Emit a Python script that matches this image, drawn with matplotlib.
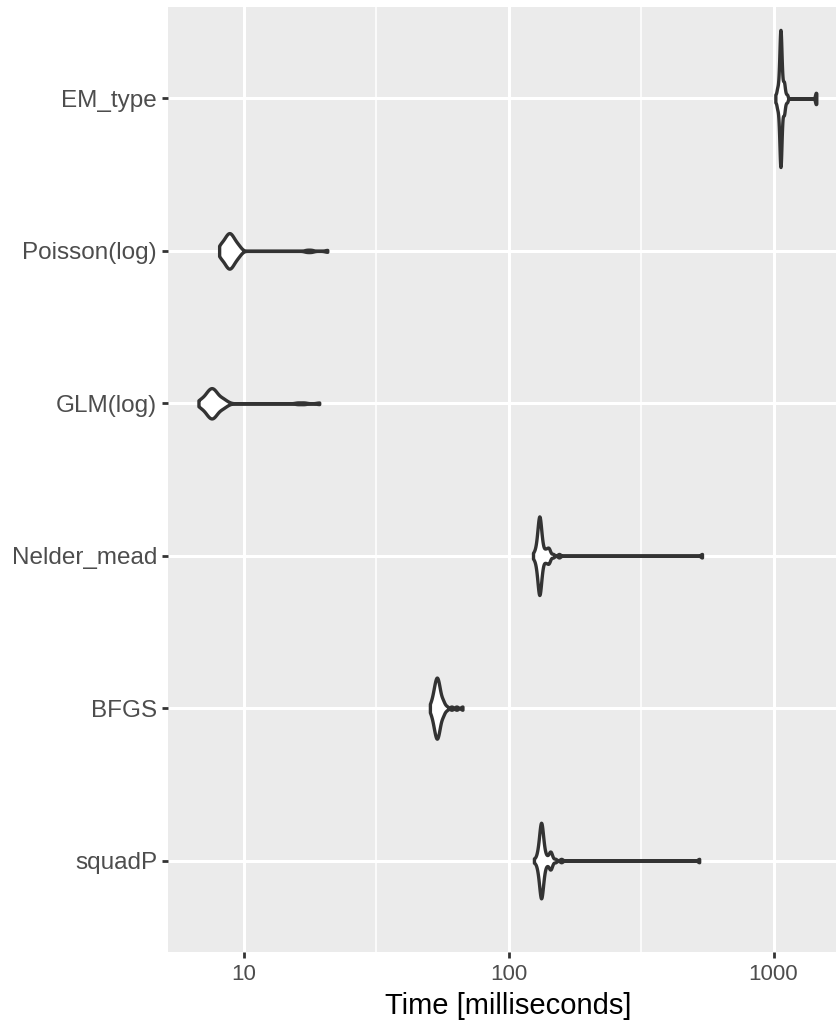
import numpy as np
import matplotlib.pyplot as plt
from matplotlib.ticker import FixedLocator, NullFormatter

# benchmark timings in milliseconds (50 runs per expression)
EXPRS = ["squadP", "BFGS", "Nelder_mead", "GLM(log)", "Poisson(log)", "EM_type"]

squadP = [124.7, 127.3, 128.3, 129.0, 129.6, 130.0, 130.3, 130.6, 130.9, 131.1, 131.4, 131.5, 131.7,
          131.9, 132.0, 132.2, 132.3, 132.4, 132.5, 132.7, 132.8, 132.9, 133.0, 133.1, 133.2, 133.4,
          133.5, 133.7, 133.9, 134.1, 134.3, 134.5, 134.8, 135.1, 135.4, 135.8, 136.4, 137.1, 138.1,
          139.7, 141.0, 142.8, 143.3, 143.7, 144.1, 144.8, 146.0, 150, 158, 524]
BFGS = [50.5, 51.0, 51.3, 51.6, 51.8, 52.0, 52.1, 52.3, 52.4, 52.5, 52.6, 52.7, 52.8, 52.9, 53.0,
        53.1, 53.2, 53.3, 53.3, 53.4, 53.5, 53.6, 53.6, 53.7, 53.8, 53.9, 54.0, 54.0, 54.1, 54.2,
        54.3, 54.4, 54.5, 54.6, 54.7, 54.8, 54.9, 55.1, 55.2, 55.4, 55.6, 56.0, 56.3, 56.5, 56.7,
        57.3, 58.4, 60.9, 63.6, 67.0]
Nelder_mead = [123.7, 125.5, 126.5, 127.2, 127.7, 128.1, 128.5, 128.7, 129.0, 129.2, 129.4, 129.6,
               129.8, 129.9, 130.1, 130.2, 130.3, 130.4, 130.5, 130.6, 130.8, 130.9, 131.0, 131.1,
               131.2, 131.3, 131.5, 131.6, 131.8, 132.0, 132.2, 132.4, 132.7, 133.0, 133.3, 133.7,
               134.2, 134.9, 135.9, 137.5, 137.9, 138.8, 140.3, 140.9, 141.5, 142.2, 143.2,
               147, 155, 537]
GLM_log = [6.76, 6.84, 6.91, 6.95, 7.03, 7.10, 7.14, 7.19, 7.23, 7.26, 7.28, 7.31, 7.34, 7.37, 7.39,
           7.42, 7.44, 7.47, 7.49, 7.51, 7.54, 7.56, 7.58, 7.60, 7.62, 7.64, 7.66, 7.69, 7.71, 7.74,
           7.76, 7.79, 7.82, 7.85, 7.88, 7.91, 7.94, 7.99, 8.03, 8.10, 8.18, 8.25, 8.29, 8.35, 8.44,
           8.54, 8.73, 16.0, 16.9, 19.3]
Poisson_log = [8.09, 8.13, 8.17, 8.22, 8.25, 8.31, 8.37, 8.41, 8.45, 8.49, 8.52, 8.55, 8.57, 8.60,
               8.63, 8.65, 8.68, 8.70, 8.73, 8.75, 8.77, 8.80, 8.82, 8.84, 8.86, 8.89, 8.90, 8.92,
               8.95, 8.97, 9.00, 9.02, 9.05, 9.08, 9.11, 9.14, 9.17, 9.21, 9.24, 9.28, 9.34, 9.40,
               9.45, 9.49, 9.56, 9.66, 9.75, 17.3, 18.0, 20.7]
EM_type = [1016, 1028, 1032, 1036.1, 1041.2, 1044.6, 1047.1, 1049.1, 1050.8, 1052.2, 1053.4,
           1054.6, 1055.6, 1056.5, 1057.3, 1058.1, 1058.8, 1059.4, 1060.1, 1060.7, 1061.2, 1061.8,
           1062.3, 1062.8, 1063.3, 1063.9, 1064.6, 1065.2, 1065.9, 1066.7, 1067.5, 1068.4, 1069.4,
           1070.6, 1071.8, 1073.2, 1074.9, 1076.9, 1079.4, 1082.8, 1087.9, 1090, 1093, 1096,
           1098.9, 1102, 1112, 1125, 1440, 1450]

TIMES = [squadP, BFGS, Nelder_mead, GLM_log, Poisson_log, EM_type]

X_TICKS = [10, 100, 1000]
X_MINOR = [10 ** 0.5, 10 ** 1.5, 10 ** 2.5, 10 ** 3.5]


def nrd0(v):
    # R's default bandwidth rule
    sd = np.std(v, ddof=1)
    q75, q25 = np.percentile(v, [75, 25])
    lo = min(sd, (q75 - q25) / 1.34)
    return 0.9 * lo * len(v) ** -0.2


def density(samples, n=512):
    # gaussian kde on the log10 scale, trimmed to the data range
    v = np.log10(np.asarray(samples, float))
    bw = nrd0(v)
    grid = np.linspace(v.min(), v.max(), n)
    z = (grid[:, None] - v[None, :]) / bw
    d = np.exp(-0.5 * z ** 2).sum(axis=1) / (len(v) * bw * np.sqrt(2 * np.pi))
    return 10 ** grid, d


dens = [density(t) for t in TIMES]
dmax = max(d.max() for _, d in dens)

fig = plt.figure(figsize=(8.37, 10.26), dpi=100)
# panel runs a little past the right edge of the canvas
ax = fig.add_axes([168 / 837, 74 / 1026, 680 / 837, 945 / 1026])
ax.set_facecolor("#EBEBEB")
for s in ax.spines.values():
    s.set_visible(False)

for i, (x, d) in enumerate(dens):
    w = 0.45 * d / dmax  # scale = "area"
    ax.fill_between(x, i + 1 - w, i + 1 + w, facecolor="white", edgecolor="#333333",
                    linewidth=2.4, joinstyle="round", zorder=3)

ax.set_xscale("log")
ax.set_xlim(10 ** 0.715, 10 ** 3.281)
ax.set_ylim(0.4, len(EXPRS) + 0.6)
ax.xaxis.set_major_locator(FixedLocator(X_TICKS))
ax.xaxis.set_minor_locator(FixedLocator(X_MINOR))
ax.xaxis.set_minor_formatter(NullFormatter())
ax.set_xticklabels([str(t) for t in X_TICKS])
ax.set_yticks(range(1, len(EXPRS) + 1))
ax.set_yticklabels(EXPRS)

ax.grid(which="major", color="white", linewidth=2.2)
ax.grid(which="minor", axis="x", color="white", linewidth=1.1)
ax.set_axisbelow(True)
ax.tick_params(which="major", length=4.4, width=2.0, color="#333333", labelcolor="#4D4D4D")
ax.tick_params(axis="y", labelsize=17.5, pad=3.5)
ax.tick_params(axis="x", labelsize=16, pad=4.5)
ax.tick_params(which="minor", length=0)
for lab in ax.get_xticklabels() + ax.get_yticklabels():
    lab.set_family("Liberation Sans")

ax.set_xlabel("Time [milliseconds]", family="Liberation Sans", fontsize=21, color="black",
              labelpad=4.5)

fig.savefig("out.png", dpi=100)
